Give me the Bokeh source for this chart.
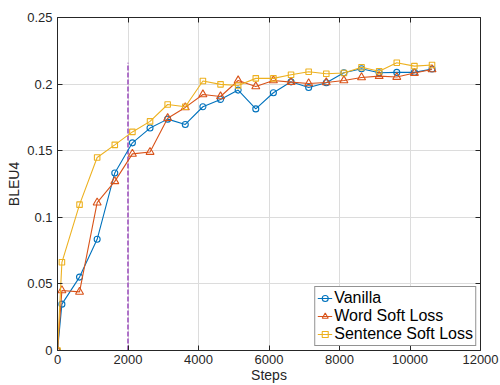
from bokeh.plotting import figure
from bokeh.models import LinearAxis, Legend, LegendItem, FixedTicker
from bokeh.embed import file_html
from bokeh.resources import INLINE

steps = [0, 125, 625, 1125, 1625, 2125, 2625, 3125, 3625, 4125, 4625, 5125,
         5625, 6125, 6625, 7125, 7625, 8125, 8625, 9125, 9625, 10125, 10625]
vanilla = [0.0, 0.0348, 0.0551, 0.0835, 0.1333, 0.1559, 0.1670, 0.1737, 0.1697,
           0.1830, 0.1885, 0.1955, 0.1814, 0.1935, 0.2017, 0.1975, 0.2010,
           0.2085, 0.2115, 0.2085, 0.2088, 0.2088, 0.2113]
word_soft = [0.0, 0.0451, 0.0440, 0.1110, 0.1270, 0.1476, 0.1490, 0.1744, 0.1825,
             0.1922, 0.1907, 0.2027, 0.1982, 0.2027, 0.2015, 0.2005, 0.2012,
             0.2027, 0.2050, 0.2060, 0.2053, 0.2083, 0.2110]
sentence_soft = [0.0, 0.0662, 0.1095, 0.1449, 0.1544, 0.1641, 0.1720, 0.1847, 0.1830,
                 0.2023, 0.1998, 0.1990, 0.2043, 0.2043, 0.2070, 0.2093, 0.2078,
                 0.2083, 0.2126, 0.2096, 0.2160, 0.2135, 0.2143]
marker_line_x = 2000
marker_line_top = 0.216
x_ticks = [0, 2000, 4000, 6000, 8000, 10000, 12000]
y_ticks = [0, 0.05, 0.1, 0.15, 0.2, 0.25]
y_tick_labels = {0: "0", 0.05: "0.05", 0.1: "0.1", 0.15: "0.15", 0.2: "0.2", 0.25: "0.25"}

FONT = "Liberation Sans"
AX = "#262626"

p = figure(width=500, height=385, x_range=(0, 12000), y_range=(0, 0.25),
           output_backend="svg", toolbar_location=None,
           min_border_left=57, min_border_right=20, min_border_top=17, min_border_bottom=35)
p.background_fill_color = "white"
p.border_fill_color = "white"
p.outline_line_color = None

for ax in (p.xaxis[0], p.yaxis[0]):
    ax.major_tick_in = 5
    ax.major_tick_out = 0
    ax.minor_tick_line_color = None
    ax.axis_line_color = AX
    ax.major_tick_line_color = AX
    ax.major_label_text_font = FONT
    ax.major_label_text_font_size = "13px"
    ax.major_label_text_color = AX
    ax.axis_label_text_font = FONT
    ax.axis_label_text_font_size = "14px"
    ax.axis_label_text_font_style = "normal"
    ax.axis_label_text_color = AX

p.xaxis[0].ticker = FixedTicker(ticks=x_ticks)
p.yaxis[0].ticker = FixedTicker(ticks=y_ticks)
p.yaxis[0].major_label_overrides = y_tick_labels
p.xaxis[0].axis_label = "Steps"
p.yaxis[0].axis_label = "BLEU4"
p.xaxis[0].major_label_standoff = 4
p.xaxis[0].axis_label_standoff = 0
p.yaxis[0].major_label_standoff = 5
p.yaxis[0].axis_label_standoff = 2

for loc, tk in (("above", x_ticks), ("right", y_ticks)):
    a = LinearAxis(ticker=FixedTicker(ticks=tk),
                   major_label_overrides={t: "" for t in tk},
                   major_label_text_color=None,
                   major_label_standoff=0, major_tick_in=5, major_tick_out=0,
                   minor_tick_line_color=None, axis_line_color=AX, major_tick_line_color=AX)
    p.add_layout(a, loc)

p.xgrid.ticker = FixedTicker(ticks=x_ticks)
p.ygrid.ticker = FixedTicker(ticks=y_ticks)
p.grid.grid_line_color = "#dcdcdc"
p.grid.grid_line_width = 1

p.segment(x0=[marker_line_x], y0=[0], x1=[marker_line_x], y1=[marker_line_top],
          line_color="#A865C4", line_width=1.8, line_dash="5 2")

series = [("Vanilla", vanilla, "#0072BD", "circle", 6),
          ("Word Soft Loss", word_soft, "#D95319", "triangle", 8),
          ("Sentence Soft Loss", sentence_soft, "#EDB120", "square", 5.5)]
items = []
for name, ys, col, mk, sz in series:
    l = p.line(steps, ys, line_color=col, line_width=1.1)
    s = p.scatter(steps, ys, marker=mk, size=sz, line_color=col, fill_color=None, line_width=1.1)
    items.append(LegendItem(label=name, renderers=[l, s]))

legend = Legend(items=items, location="bottom_right", margin=4, padding=2, spacing=0,
                glyph_width=15, glyph_height=18, label_height=18, label_standoff=2,
                label_text_font=FONT, label_text_font_size="16px", label_text_color="black",
                border_line_color=AX, border_line_width=1, background_fill_color="white",
                background_fill_alpha=1)
p.add_layout(legend, "center")

open("out.html", "w").write(file_html(p, INLINE))
